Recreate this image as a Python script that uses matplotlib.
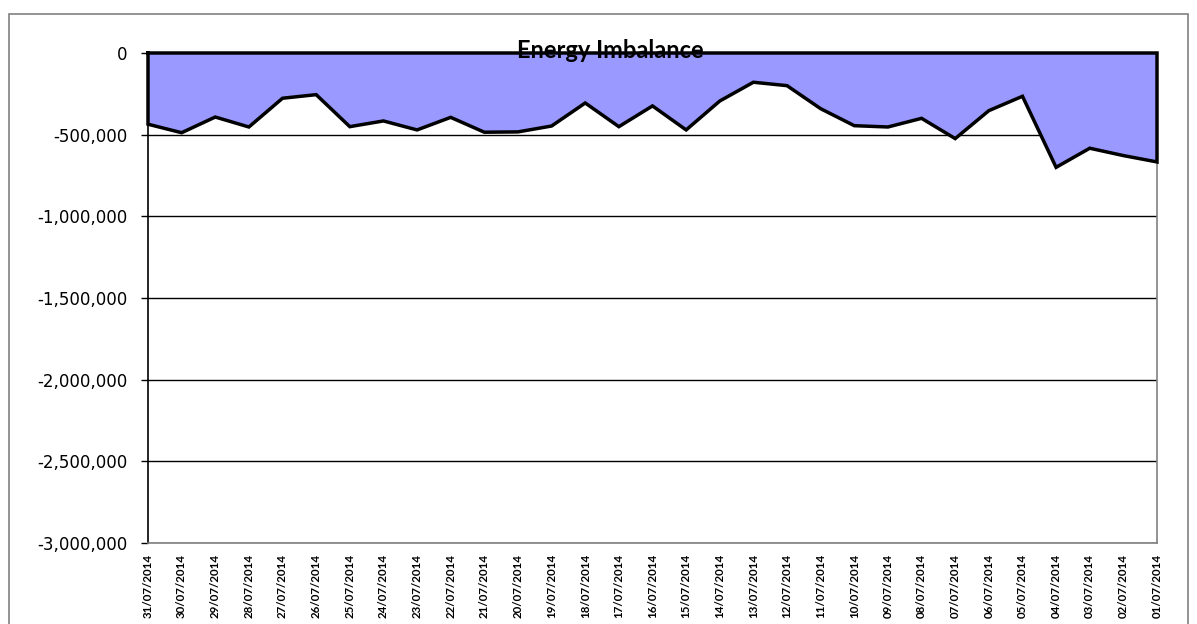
import matplotlib
matplotlib.use("Agg")
import matplotlib.pyplot as plt
from matplotlib.patches import Rectangle
from matplotlib.ticker import FuncFormatter

dates = ["31/07/2014", "30/07/2014", "29/07/2014", "28/07/2014", "27/07/2014",
         "26/07/2014", "25/07/2014", "24/07/2014", "23/07/2014", "22/07/2014",
         "21/07/2014", "20/07/2014", "19/07/2014", "18/07/2014", "17/07/2014",
         "16/07/2014", "15/07/2014", "14/07/2014", "13/07/2014", "12/07/2014",
         "11/07/2014", "10/07/2014", "09/07/2014", "08/07/2014", "07/07/2014",
         "06/07/2014", "05/07/2014", "04/07/2014", "03/07/2014", "02/07/2014",
         "01/07/2014"]
imbalance = [-436000, -488000, -392000, -453000, -277000, -255000, -451000,
             -416000, -471000, -394000, -485000, -483000, -447000, -306000,
             -451000, -324000, -471000, -294000, -179000, -200000, -341000,
             -445000, -453000, -400000, -524000, -353000, -265000, -700000,
             -583000, -628000, -667000]
yticks = [0, -500000, -1000000, -1500000, -2000000, -2500000, -3000000]

fig = plt.figure(figsize=(11.97, 6.24), dpi=100)
ax = fig.add_axes([148/1197, 1-543/624, (1157-148)/1197, (543-53)/624])

x = list(range(len(dates)))
ax.fill_between(x, imbalance, 0, color="#9999ff", zorder=2, linewidth=0)
# outline: down the left edge, along the series, up the right edge and back along zero
ox = [0] + x + [x[-1], 0]
oy = [0] + imbalance + [0, 0]
ax.plot(ox, oy, color="black", lw=2.5, zorder=3, solid_joinstyle="miter", clip_on=False)

ax.set_xlim(0, len(dates) - 1)
ax.set_ylim(-3000000, 0)
ax.set_yticks(yticks)
ax.yaxis.set_major_formatter(FuncFormatter(lambda v, p: f"{int(v):,}"))
ax.tick_params(axis="y", labelsize=12, length=5, width=1, direction="out", pad=10)
for t in ax.get_yticklabels():
    t.set_family("DejaVu Sans")
ax.grid(axis="y", color="black", lw=1, zorder=1)

ax.set_xticks(x)
ax.set_xticklabels(dates, rotation=90, fontsize=8.3, fontweight="bold", family="Lato")
ax.tick_params(axis="x", length=0, pad=8)

for s in ["top", "right", "bottom"]:
    ax.spines[s].set_color("#808080")
    ax.spines[s].set_linewidth(1.2)
ax.spines["left"].set_color("black")
ax.spines["left"].set_linewidth(1.2)
ax.spines["top"].set_visible(False)

fig.text(610/1197, 1-50/624, "Energy Imbalance", ha="center", va="center",
         fontsize=17, fontweight="bold", family="Lato", zorder=10)

fig.patches.append(Rectangle((9/1197, -0.05), (1188-9)/1197, 1.05-14/624,
                             transform=fig.transFigure, fill=False,
                             edgecolor="#808080", lw=1.2))

fig.savefig("out.png", dpi=100)
